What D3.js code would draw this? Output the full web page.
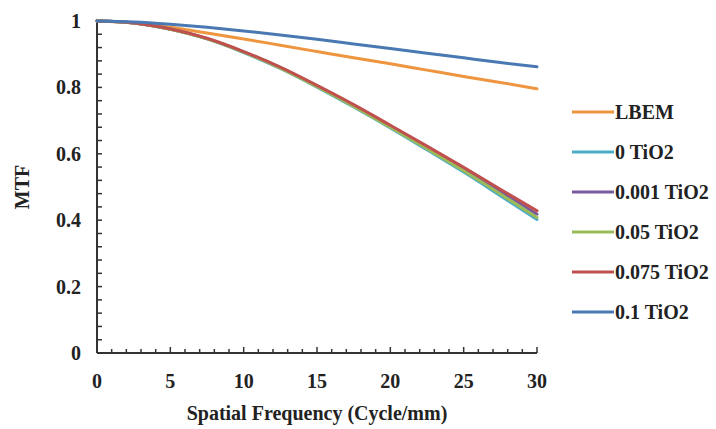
<!DOCTYPE html>
<html>
<head>
<meta charset="utf-8">
<script src="https://cdn.jsdelivr.net/npm/d3@7"></script>
<style>
  html, body { margin: 0; padding: 0; background: #fff; }
  svg { display: block; }
  text { font-family: "Liberation Serif", "Times New Roman", serif; font-weight: bold; fill: #222; }
</style>
</head>
<body>
<svg id="chart" width="716" height="429"></svg>
<script>
// ---- data ----
const frequencies = [0, 2.5, 5, 7.5, 10, 12.5, 15, 17.5, 20, 22.5, 25, 27.5, 30];
const seriesNames = ["LBEM", "0 TiO2", "0.001 TiO2", "0.05 TiO2", "0.075 TiO2", "0.1 TiO2"];
const lbem      = [1, 0.994, 0.981, 0.964, 0.946, 0.927, 0.908, 0.889, 0.871, 0.852, 0.833, 0.815, 0.796];
const tio2_0    = [1, 0.994, 0.975, 0.946, 0.905, 0.857, 0.801, 0.741, 0.678, 0.612, 0.545, 0.474, 0.402];
const tio2_001  = [1, 0.994, 0.976, 0.947, 0.907, 0.859, 0.804, 0.745, 0.683, 0.619, 0.554, 0.486, 0.418];
const tio2_05   = [1, 0.994, 0.975, 0.946, 0.906, 0.858, 0.802, 0.743, 0.680, 0.615, 0.549, 0.479, 0.408];
const tio2_075  = [1, 0.994, 0.976, 0.948, 0.908, 0.861, 0.806, 0.748, 0.686, 0.623, 0.559, 0.493, 0.428];
const tio2_1    = [1, 0.997, 0.990, 0.981, 0.970, 0.958, 0.945, 0.931, 0.917, 0.903, 0.889, 0.875, 0.862];
const seriesValues = [lbem, tio2_0, tio2_001, tio2_05, tio2_075, tio2_1];
const seriesColors = ["#EE9540", "#4BACC6", "#7A5A9E", "#9BBB59", "#C0504D", "#4A78B3"];
const xTicks = [0, 5, 10, 15, 20, 25, 30];
const yTicks = [0, 0.2, 0.4, 0.6, 0.8, 1];
const xTitle = "Spatial Frequency (Cycle/mm)";
const yTitle = "MTF";

// ---- layout ----
const svg = d3.select("#chart");
const x = d3.scaleLinear().domain([0, 30]).range([97, 537]);
const y = d3.scaleLinear().domain([0, 1]).range([353, 21]);

// axes
const xAxisG = svg.append("g").attr("transform", `translate(0,${y(0)})`);
xAxisG.append("line").attr("x1", x(0)).attr("x2", x(30)).attr("y1", 0).attr("y2", 0)
  .attr("stroke", "#333").attr("stroke-width", 2);
const xMinor = d3.range(0, 31, 1);
xAxisG.selectAll("line.mt").data(xMinor).enter().append("line")
  .attr("x1", d => x(d)).attr("x2", d => x(d))
  .attr("y1", 0).attr("y2", d => xTicks.includes(d) ? -6 : -4)
  .attr("stroke", "#333").attr("stroke-width", 1.5);
xAxisG.selectAll("text").data(xTicks).enter().append("text")
  .attr("x", d => x(d)).attr("y", 35).attr("text-anchor", "middle")
  .attr("font-size", 20).text(d => d);

const yAxisG = svg.append("g").attr("transform", `translate(${x(0)},0)`);
yAxisG.append("line").attr("x1", 0).attr("x2", 0).attr("y1", y(0)).attr("y2", y(1))
  .attr("stroke", "#333").attr("stroke-width", 2);
const yMinor = d3.range(0, 26).map(i => i * 0.04);
yAxisG.selectAll("line.mt").data(yMinor).enter().append("line")
  .attr("x1", 0).attr("x2", 5)
  .attr("y1", d => y(d)).attr("y2", d => y(d))
  .attr("stroke", "#333").attr("stroke-width", 1.5);
yAxisG.selectAll("text").data(yTicks).enter().append("text")
  .attr("x", -16).attr("y", d => y(d)).attr("dy", "0.35em").attr("text-anchor", "end")
  .attr("font-size", 20).text(d => d === 0 || d === 1 ? d : d.toFixed(1));

// titles
svg.append("text").attr("x", (x(0) + x(30)) / 2).attr("y", 420)
  .attr("text-anchor", "middle").attr("font-size", 20).text(xTitle);
svg.append("text").attr("transform", `translate(29,${(y(0) + y(1)) / 2}) rotate(-90)`)
  .attr("text-anchor", "middle").attr("font-size", 20).text(yTitle);

// lines
const line = d3.line().x(d => x(d[0])).y(d => y(d[1])).curve(d3.curveMonotoneX);
seriesValues.forEach((vals, i) => {
  svg.append("path")
    .datum(frequencies.map((f, j) => [f, vals[j]]))
    .attr("d", line).attr("fill", "none")
    .attr("stroke", seriesColors[i]).attr("stroke-width", 3)
    .attr("stroke-linecap", "round");
});

// legend
const legend = svg.append("g");
seriesNames.forEach((name, i) => {
  const ly = 112 + i * 40;
  legend.append("line").attr("x1", 572).attr("x2", 614).attr("y1", ly).attr("y2", ly)
    .attr("stroke", seriesColors[i]).attr("stroke-width", 3);
  legend.append("text").attr("x", 615).attr("y", ly).attr("dy", "0.35em")
    .attr("font-size", 20).text(name);
});
</script>
</body>
</html>
